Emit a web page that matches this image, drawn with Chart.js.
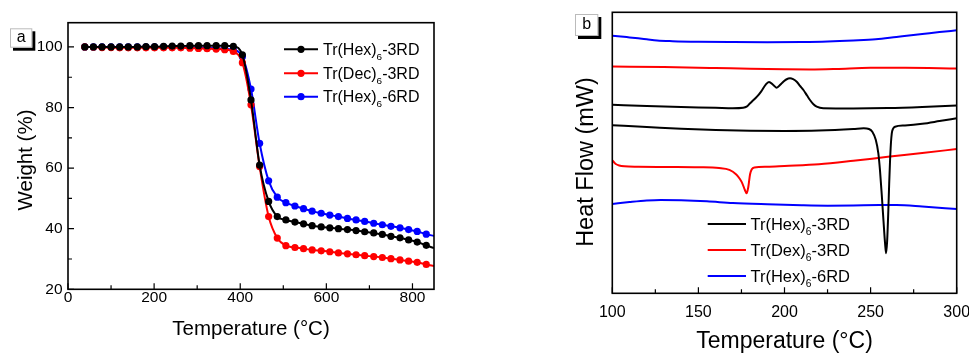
<!DOCTYPE html>
<html>
<head>
<meta charset="utf-8">
<script src="https://cdn.jsdelivr.net/npm/chart.js@4.4.1/dist/chart.umd.min.js"></script>
<style>
  html, body { margin: 0; padding: 0; background: #fff; }
  #wrap { position: relative; width: 969px; height: 354px; overflow: hidden; }
  #tgaChart { position: absolute; left: 0; top: 0; }
  #dscChart { position: absolute; left: 560px; top: 0; }
</style>
</head>
<body>
<div id="wrap">
  <canvas id="tgaChart" width="460" height="354"></canvas>
  <canvas id="dscChart" width="409" height="354"></canvas>
</div>
<script>
// ---- Panel a: TGA data ----
const tgaTemps = [39, 59, 79, 100, 120, 140, 161, 181, 201, 222, 242, 262, 283, 303, 323, 344, 364, 384, 405, 425,
                  445, 466, 486, 506, 527, 547, 567, 588, 608, 628, 649, 669, 689, 710, 730, 750, 771, 791, 811, 832, 850];
const tgaHex3 = [100, 100, 100, 100, 100, 100, 100, 100.1, 100.1, 100.2, 100.3, 100.3, 100.4, 100.4, 100.4, 100.4, 100.4, 100.2, 97.4, 82.5,
                 61.0, 49.0, 44.0, 42.9, 42.2, 41.6, 41.0, 40.6, 40.3, 40.0, 39.7, 39.4, 39.0, 38.6, 38.1, 37.5, 37.0, 36.3, 35.6, 34.5, 33.6];
const tgaDec3 = [100, 99.9, 99.8, 99.8, 99.7, 99.7, 99.7, 99.7, 99.7, 99.7, 99.7, 99.7, 99.6, 99.5, 99.4, 99.3, 99.1, 98.5, 94.8, 80.9,
                 60.5, 44.0, 36.9, 34.4, 33.8, 33.4, 33.0, 32.7, 32.4, 32.0, 31.7, 31.4, 31.1, 30.8, 30.5, 30.1, 29.7, 29.3, 28.9, 28.2, 27.7];
const tgaHex6 = [100, 100, 100, 100, 100, 100, 100, 100, 100, 100, 100, 99.9, 99.9, 99.8, 99.7, 99.6, 99.4, 99.0, 96.8, 86.1,
                 68.2, 55.8, 50.4, 48.6, 47.5, 46.6, 45.8, 45.1, 44.5, 44.0, 43.4, 42.9, 42.4, 41.8, 41.3, 40.8, 40.3, 39.7, 39.1, 38.2, 37.6];
const tgaXTicks = [0, 200, 400, 600, 800];
const tgaXMinor = [100, 300, 500, 700];
const tgaYTicks = [20, 40, 60, 80, 100];
const tgaYMinor = [30, 50, 70, 90];
const tgaLabels = [['Tr(Hex)', '6', '-3RD'], ['Tr(Dec)', '6', '-3RD'], ['Tr(Hex)', '6', '-6RD']];

// ---- Panel b: DSC data, [temperature, heat flow (arb.)] ----
const dscBlueTop = [[100, 257.6], [105, 256.8], [110, 255.9], [115, 255], [120, 254], [126, 252.8], [135, 252.1], [150, 251.5],
                    [170, 251.2], [190, 251.1], [210, 251.3], [225, 251.8], [240, 252.8], [253, 254], [265, 256.3], [280, 259.2],
                    [290, 261.2], [300, 263]];
const dscRedTop = [[100, 226.8], [130, 226.3], [160, 225.3], [180, 224.5], [200, 224], [215, 223.8], [230, 224.3], [250, 225.5],
                   [270, 225.5], [300, 224.8]];
const dscBlackHi = [[100, 188.5], [120, 187.3], [140, 186.3], [160, 185.5], [170, 185], [176, 185.5], [178, 186.6], [180, 190],
                    [181, 191.6], [184, 196.6], [186.5, 202], [189, 208.5], [191, 211.3], [193.5, 208.3], [195.5, 205.6],
                    [197.5, 208.5], [199.3, 211.6], [201, 213.8], [203.2, 215], [205, 214.2], [207.1, 211.6], [209, 207.5],
                    [211, 203.3], [213, 198], [214.8, 193.3], [216.8, 189], [218.7, 186.6], [222.5, 185], [240, 184.8],
                    [260, 185.2], [280, 186.3], [300, 187.8]];
const dscBlackLo = [[100, 168], [120, 166.3], [140, 164.5], [160, 163.3], [180, 162.6], [200, 162.4], [220, 162.8], [240, 164.3],
                    [246, 165], [249, 164.3], [251, 161.6], [253, 153.5], [254.5, 140], [255.5, 122], [256.5, 98], [257.5, 72],
                    [258.4, 50], [259, 40], [259.6, 52], [260.3, 83], [260.8, 110], [261.3, 133], [261.8, 150], [262.3, 160],
                    [263, 164.5], [264.2, 166.6], [270, 167.8], [280, 169.5], [290, 172.2], [300, 175]];
const dscRedLo = [[100, 133], [101, 131], [102, 129.3], [104, 127.8], [107, 127], [115, 126.6], [130, 126.3], [150, 126],
                  [162, 125.3], [168, 123.5], [172, 118.8], [174, 114.5], [175.5, 110], [177, 103.3], [178, 100], [179, 106.5],
                  [180, 119], [181, 124], [182.5, 125.8], [190, 126.5], [200, 127.3], [220, 129], [240, 132.5], [260, 136.5],
                  [280, 140.2], [300, 144.3]];
const dscBlueLo = [[100, 89.3], [110, 91.2], [120, 92.8], [128, 93.4], [140, 93.1], [155, 92], [170, 90.3], [190, 89], [210, 88],
                   [225, 87.6], [240, 87.8], [255, 88.2], [265, 88.2], [280, 86.8], [300, 84.3]];
const dscXTicks = [100, 150, 200, 250, 300];
const dscXMinor = [125, 175, 225, 275];
const dscLabels = [['Tr(Hex)', '6', '-3RD'], ['Tr(Dex)', '6', '-3RD'], ['Tr(Hex)', '6', '-6RD']];

const BLACK = '#000000', RED = '#ff0000', BLUE = '#0000ff';
const FONT = "'Liberation Sans', Arial, sans-serif";
Chart.defaults.font.family = FONT;
Chart.defaults.color = '#000';

function toPoints(pairs) {
    return pairs.map(p => ({ x: p[0], y: p[1] }));
}

// frame + inward tick marks
const framePlugin = {
    id: 'frame',
    afterDatasetsDraw(chart, args, opts) {
        const { ctx, chartArea: a } = chart;
        const x = chart.scales.x, y = chart.scales.y;
        ctx.save();
        ctx.strokeStyle = '#000';
        ctx.lineWidth = 1.2;
        ctx.beginPath();
        const tick = (vals, len, isX) => vals.forEach(v => {
            if (isX) {
                const px = x.getPixelForValue(v);
                ctx.moveTo(px, a.bottom); ctx.lineTo(px, a.bottom - len);
            } else {
                const py = y.getPixelForValue(v);
                ctx.moveTo(a.left, py); ctx.lineTo(a.left + len, py);
            }
        });
        tick(opts.xMajor || [], 6, true);
        tick(opts.xMinor || [], 4, true);
        tick(opts.yMajor || [], 6, false);
        tick(opts.yMinor || [], 4, false);
        ctx.stroke();
        ctx.lineWidth = 1.6;
        ctx.strokeRect(a.left, a.top, a.right - a.left, a.bottom - a.top);
        ctx.restore();
    }
};

// legend with subscripts, panel letter, rotated y title
const decorPlugin = {
    id: 'decor',
    afterDraw(chart, args, opts) {
        const ctx = chart.ctx;
        ctx.save();
        // legend
        const lg = opts.legend;
        lg.items.forEach((it, i) => {
            const y = lg.rows[i];
            ctx.strokeStyle = it.color;
            ctx.lineWidth = 2;
            ctx.beginPath(); ctx.moveTo(lg.x0, y); ctx.lineTo(lg.x1, y); ctx.stroke();
            if (lg.marker) {
                ctx.fillStyle = it.color;
                ctx.beginPath(); ctx.arc((lg.x0 + lg.x1) / 2, y, 3.6, 0, Math.PI * 2); ctx.fill();
            }
            ctx.fillStyle = '#000';
            ctx.textBaseline = 'alphabetic';
            ctx.textAlign = 'left';
            const base = y + lg.size * 0.36;
            let tx = lg.textX;
            ctx.font = lg.size + 'px ' + FONT;
            ctx.fillText(it.label[0], tx, base);
            tx += ctx.measureText(it.label[0]).width;
            ctx.font = (lg.size * 0.62) + 'px ' + FONT;
            ctx.fillText(it.label[1], tx, base + lg.size * 0.28);
            tx += ctx.measureText(it.label[1]).width;
            ctx.font = lg.size + 'px ' + FONT;
            ctx.fillText(it.label[2], tx, base);
        });
        // panel letter box
        const p = opts.panel;
        ctx.fillStyle = '#000';
        ctx.fillRect(p.x + 3, p.y + 3, p.w, p.h);
        ctx.fillStyle = '#fff';
        ctx.fillRect(p.x, p.y, p.w, p.h);
        ctx.strokeStyle = '#bbb';
        ctx.lineWidth = 1;
        ctx.strokeRect(p.x + 0.5, p.y + 0.5, p.w - 1, p.h - 1);
        ctx.fillStyle = '#000';
        ctx.font = '16px ' + FONT;
        ctx.textAlign = 'center';
        ctx.textBaseline = 'middle';
        ctx.fillText(p.text, p.x + p.w / 2, p.y + p.h / 2);
        // y title
        const t = opts.yTitle;
        ctx.translate(t.x, t.y);
        ctx.rotate(-Math.PI / 2);
        ctx.font = t.size + 'px ' + FONT;
        ctx.fillText(t.text, 0, 0);
        ctx.restore();
    }
};

// ---- Panel a ----
const tgaSeries = [
    { data: tgaHex3, color: BLACK },
    { data: tgaDec3, color: RED },
    { data: tgaHex6, color: BLUE }
];
const markerRadius = tgaTemps.map((t, i) => (i === tgaTemps.length - 1 ? 0 : 3.6));

new Chart(document.getElementById('tgaChart'), {
    type: 'line',
    data: {
        labels: tgaTemps,
        datasets: tgaSeries.map((s, i) => ({
            label: tgaLabels[i].join(''),
            data: s.data.map((v, j) => ({ x: tgaTemps[j], y: v })),
            borderColor: s.color,
            backgroundColor: s.color,
            borderWidth: 2,
            pointRadius: markerRadius,
            pointBorderWidth: 0,
            pointBackgroundColor: s.color,
            cubicInterpolationMode: 'monotone',
            fill: false
        }))
    },
    options: {
        responsive: false,
        animation: false,
        layout: { padding: { left: 0, right: 26, top: 22.7, bottom: 0 } },
        plugins: {
            legend: { display: false },
            tooltip: { enabled: false },
            frame: { xMajor: tgaXTicks, xMinor: tgaXMinor, yMajor: tgaYTicks, yMinor: tgaYMinor },
            decor: {
                legend: {
                    x0: 284, x1: 318, textX: 323, size: 16, marker: true, rows: [49.3, 73.3, 96.7],
                    items: tgaLabels.map((l, i) => ({ label: l, color: tgaSeries[i].color }))
                },
                panel: { text: 'a', x: 10, y: 28.3, w: 22.3, h: 19.4 },
                yTitle: { text: 'Weight (%)', x: 26, y: 160, size: 20.5 }
            }
        },
        scales: {
            x: {
                type: 'linear', min: 0, max: 850,
                afterBuildTicks: axis => { axis.ticks = tgaXTicks.map(v => ({ value: v })); },
                afterFit: axis => { axis.height = 64.7; axis.paddingLeft = 0; axis.paddingRight = 0; },
                grid: { display: false, drawTicks: false },
                border: { display: false },
                ticks: { padding: -1, font: { size: 15.5 }, color: '#000', maxRotation: 0 },
                title: { display: true, text: 'Temperature (°C)', font: { size: 20.5 }, color: '#000', padding: { top: 0, bottom: 12.7 } }
            },
            y: {
                type: 'linear', min: 20, max: 108,
                afterBuildTicks: axis => { axis.ticks = tgaYTicks.map(v => ({ value: v })); },
                afterFit: axis => { axis.width = 68; axis.paddingTop = 0; axis.paddingBottom = 0; },
                grid: { display: false, drawTicks: false },
                border: { display: false },
                ticks: { padding: 5.5, font: { size: 15.5 }, color: '#000' }
            }
        }
    },
    plugins: [framePlugin, decorPlugin]
});

// ---- Panel b ----
const dscSeries = [
    { data: dscBlackHi, color: BLACK },
    { data: dscBlackLo, color: BLACK },
    { data: dscRedTop, color: RED },
    { data: dscRedLo, color: RED },
    { data: dscBlueTop, color: BLUE },
    { data: dscBlueLo, color: BLUE }
];

new Chart(document.getElementById('dscChart'), {
    type: 'line',
    data: {
        datasets: dscSeries.map(s => ({
            data: toPoints(s.data),
            borderColor: s.color,
            backgroundColor: s.color,
            borderWidth: 2,
            pointRadius: 0,
            cubicInterpolationMode: 'monotone',
            fill: false
        }))
    },
    options: {
        responsive: false,
        animation: false,
        layout: { padding: { left: 0, right: 12.3, top: 12.3, bottom: 0 } },
        plugins: {
            legend: { display: false },
            tooltip: { enabled: false },
            frame: { xMajor: dscXTicks, xMinor: dscXMinor },
            decor: {
                legend: {
                    x0: 147.7, x1: 186, textX: 190.5, size: 16.5, marker: false, rows: [224, 250, 276],
                    items: dscLabels.map((l, i) => ({ label: l, color: [BLACK, RED, BLUE][i] }))
                },
                panel: { text: 'b', x: 15, y: 14, w: 23.3, h: 22 },
                yTitle: { text: 'Heat Flow (mW)', x: 27, y: 162, size: 23.5 }
            }
        },
        scales: {
            x: {
                type: 'linear', min: 100, max: 300,
                afterBuildTicks: axis => { axis.ticks = dscXTicks.map(v => ({ value: v })); },
                afterFit: axis => { axis.height = 60.7; axis.paddingLeft = 0; axis.paddingRight = 0; },
                grid: { display: false, drawTicks: false },
                border: { display: false },
                ticks: { padding: 10, font: { size: 16 }, color: '#000', maxRotation: 0, autoSkip: false },
                title: { display: true, text: 'Temperature (°C)', font: { size: 23 }, color: '#000', padding: { top: 0, bottom: -1.5 } }
            },
            y: {
                type: 'linear', min: 0, max: 281,
                afterFit: axis => { axis.width = 52.3; axis.paddingTop = 0; axis.paddingBottom = 0; },
                grid: { display: false, drawTicks: false },
                border: { display: false },
                ticks: { display: false }
            }
        }
    },
    plugins: [framePlugin, decorPlugin]
});
</script>
</body>
</html>
